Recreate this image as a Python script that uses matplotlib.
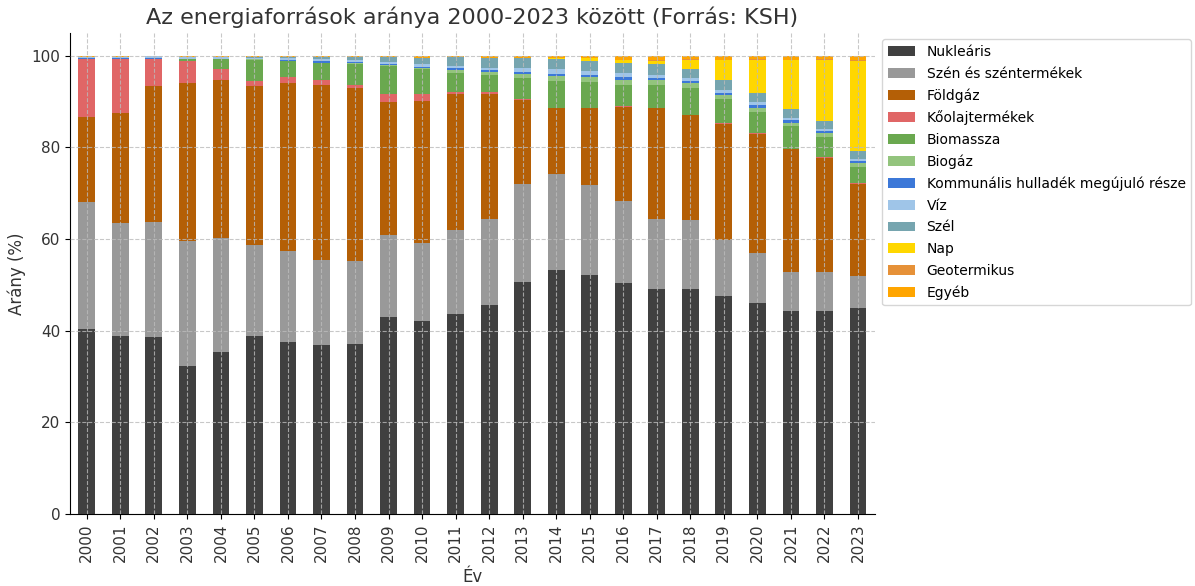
import pandas as pd
import numpy as np
import matplotlib.pyplot as plt

# Energiaforrások aránya (%), 2000-2023 (KSH)
years = list(range(2000, 2024))

nuklearis = [40.4, 38.8, 38.6, 32.2, 35.4, 38.8, 37.6, 36.8, 37.1, 43.0, 42.2, 43.6,
             45.6, 50.7, 53.3, 52.2, 50.4, 49.0, 49.1, 47.6, 46.0, 44.3, 44.2, 44.9]
szen = [27.6, 24.6, 25.2, 27.3, 24.8, 19.9, 19.8, 18.7, 18.0, 17.8, 17.0, 18.3,
        18.7, 21.2, 20.9, 19.5, 18.0, 15.4, 15.0, 12.1, 10.9, 8.6, 8.6, 7.1]
foldgaz = [18.7, 24.2, 29.6, 34.6, 34.6, 34.7, 36.6, 38.1, 37.8, 29.1, 31.0, 29.7,
           27.3, 18.4, 14.4, 16.9, 20.5, 24.1, 22.9, 25.5, 26.1, 26.7, 24.9, 20.0]
koolaj = [12.5, 11.6, 5.9, 4.7, 2.2, 1.1, 1.3, 1.2, 0.8, 1.7, 1.4, 0.5,
          0.4, 0.15, 0.1, 0.1, 0.1, 0.1, 0.1, 0.1, 0.1, 0.1, 0.1, 0.3]
biomassza = [0.0, 0.0, 0.0, 0.4, 2.2, 4.6, 3.5, 3.6, 4.6, 6.1, 5.4, 4.2,
             3.9, 4.75, 5.8, 5.6, 4.7, 5.1, 5.8, 5.2, 4.7, 5.0, 4.5, 3.4]
biogaz = [0.0, 0.0, 0.0, 0.0, 0.0, 0.1, 0.1, 0.1, 0.15, 0.2, 0.3, 0.6,
          0.5, 0.9, 1.0, 0.95, 0.95, 1.1, 1.1, 1.0, 0.9, 0.7, 0.8, 0.9]
kommunalis = [0.2, 0.2, 0.2, 0.1, 0.1, 0.1, 0.2, 0.3, 0.2, 0.35, 0.3, 0.45,
              0.45, 0.45, 0.6, 0.6, 0.7, 0.4, 0.5, 0.4, 0.5, 0.5, 0.5, 0.4]
viz = [0.4, 0.4, 0.4, 0.4, 0.4, 0.3, 0.4, 0.5, 0.5, 0.35, 0.55, 0.45,
       0.5, 0.7, 0.9, 0.9, 0.9, 0.7, 0.6, 0.6, 0.8, 0.5, 0.5, 0.4]
szel = [0.0, 0.0, 0.0, 0.1, 0.1, 0.1, 0.2, 0.4, 0.6, 1.1, 1.45, 2.0,
        2.25, 2.3, 2.3, 2.2, 2.1, 2.2, 2.0, 2.2, 1.9, 1.9, 1.7, 1.9]
nap = [0.0, 0.0, 0.0, 0.0, 0.0, 0.0, 0.0, 0.0, 0.0, 0.0, 0.0, 0.0,
       0.0, 0.0, 0.1, 0.5, 0.75, 0.8, 2.0, 4.3, 7.2, 10.75, 13.3, 19.6]
geotermikus = [0.0, 0.0, 0.0, 0.0, 0.0, 0.0, 0.0, 0.0, 0.0, 0.0, 0.0, 0.0,
               0.0, 0.0, 0.0, 0.0, 0.0, 0.1, 0.1, 0.1, 0.1, 0.1, 0.1, 0.1]
egyeb = [0.2, 0.2, 0.1, 0.2, 0.2, 0.3, 0.3, 0.3, 0.25, 0.3, 0.4, 0.2,
         0.4, 0.45, 0.6, 0.55, 0.9, 1.0, 0.8, 0.9, 0.8, 0.85, 0.8, 1.0]

labels = ["Nukleáris", "Szén és széntermékek", "Földgáz", "Kőolajtermékek",
          "Biomassza", "Biogáz", "Kommunális hulladék megújuló része", "Víz",
          "Szél", "Nap", "Geotermikus", "Egyéb"]
colors = ["#404040", "#999999", "#b45f06", "#e06666", "#6aa84f", "#93c47d",
          "#3c78d8", "#9fc5e8", "#76a5af", "#ffd700", "#e69138", "#ffa500"]

df = pd.DataFrame(
    np.column_stack([nuklearis, szen, foldgaz, koolaj, biomassza, biogaz,
                     kommunalis, viz, szel, nap, geotermikus, egyeb]),
    index=years, columns=labels)

fig, ax = plt.subplots(figsize=(11.95, 5.86), dpi=100)
fig.subplots_adjust(left=0.0586, right=0.732, top=0.944, bottom=0.123)

df.plot(kind="bar", stacked=True, color=colors, width=0.5, ax=ax, legend=False)

ax.set_ylim(0, 105)
ax.set_yticks([0, 20, 40, 60, 80, 100])
ax.set_title("Az energiaforrások aránya 2000-2023 között (Forrás: KSH)",
             fontsize=16, color="#333333")
ax.set_xlabel("Év", fontsize=12, color="#333333")
ax.set_ylabel("Arány (%)", fontsize=12, color="#333333")
ax.tick_params(axis="x", labelsize=11, rotation=90, labelcolor="#333333")
ax.tick_params(axis="y", labelsize=11, labelcolor="#333333")

ax.set_axisbelow(False)
ax.grid(True, linestyle="--", color="#bbbbbb", linewidth=0.8, alpha=0.8)
ax.spines["top"].set_visible(False)
ax.spines["right"].set_visible(False)

ax.legend(loc="upper left", bbox_to_anchor=(1.004, 0.995), fontsize=10,
          labelspacing=0.55, borderaxespad=0.3,
          frameon=True, edgecolor="#cccccc")

plt.savefig("out.png", dpi=100)
